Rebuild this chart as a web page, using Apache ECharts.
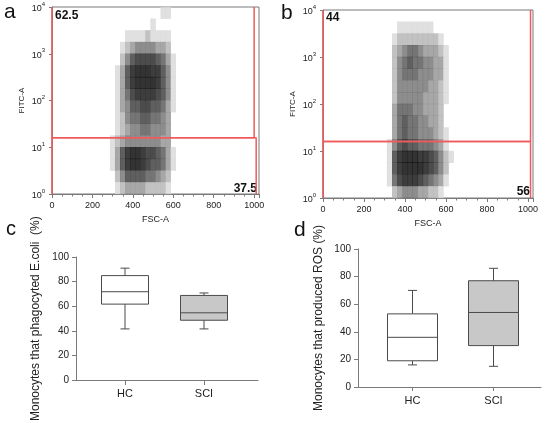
<!DOCTYPE html>
<html>
<head>
<meta charset="utf-8">
<style>
html, body { margin: 0; padding: 0; background: #fff; }
#main { width: 550px; height: 423px; }
</style>
<script src="https://cdn.jsdelivr.net/npm/echarts@6/dist/echarts.min.js"></script>
</head>
<body>
<div id="main"></div>
<script>
// FSC-A bin centres and log10(FITC-A) bin centres (top row first)
var fscBins = [300, 325, 350, 375, 400, 425, 450, 475, 500, 525, 550, 575, 600, 625, 650];
var logBins = [3.875, 3.625, 3.375, 3.125, 2.875, 2.625, 2.375, 2.125, 1.875, 1.625, 1.375, 1.125, 0.875, 0.625, 0.375, 0.125];

// dot density, 0 = empty .. 9 = solid
var densityA = [
  [0,0,0,0,0,0,0,0,0,0,1,1,0,0,0],
  [0,0,0,0,0,0,0,0,1,0,0,0,0,0,0],
  [0,0,0,1,1,1,1,2,1,1,1,1,0,0,0],
  [0,0,1,2,3,4,4,4,4,3,3,2,0,0,0],
  [0,0,2,4,6,7,7,7,7,6,5,3,1,0,0],
  [0,1,3,6,8,9,9,9,8,8,6,4,1,0,0],
  [0,1,3,6,8,9,9,9,9,8,6,4,1,0,0],
  [0,1,3,5,7,8,8,8,8,7,6,4,1,0,0],
  [0,1,3,4,6,6,7,7,6,6,5,3,1,0,0],
  [0,1,2,4,5,5,6,6,5,5,4,3,0,0,0],
  [0,1,2,3,4,4,5,5,4,4,4,3,0,0,0],
  [1,2,3,4,4,4,4,4,4,4,3,3,0,0,0],
  [1,3,6,8,9,9,8,7,7,6,5,3,1,0,0],
  [1,3,6,8,9,9,8,7,6,6,5,3,1,0,0],
  [0,2,4,6,6,6,6,5,5,4,3,2,0,0,0],
  [0,1,2,3,3,3,3,2,2,2,2,1,0,0,0]
];
var densityB = [
  [0,0,0,0,0,0,0,0,0,0,0,0,0,0,0],
  [0,0,0,1,1,1,1,1,1,1,0,0,0,0,0],
  [0,0,1,2,2,2,2,2,2,2,2,1,0,0,0],
  [0,0,2,3,4,5,5,4,3,3,3,2,1,0,0],
  [0,0,2,4,5,6,5,5,4,4,3,3,1,0,0],
  [0,0,2,4,5,5,5,4,4,4,3,3,1,0,0],
  [0,0,2,4,4,4,4,4,4,3,3,2,1,0,0],
  [0,0,2,4,4,4,4,4,3,3,3,2,1,0,0],
  [0,0,3,5,5,5,4,4,3,3,3,2,0,0,0],
  [0,0,3,5,6,5,5,4,4,3,3,2,0,0,0],
  [0,0,3,5,6,5,5,4,4,4,3,2,1,0,0],
  [0,1,4,6,7,6,6,5,5,5,4,3,1,0,0],
  [0,1,6,8,9,9,9,8,8,7,6,4,2,1,0],
  [0,1,6,8,9,9,9,9,8,7,6,4,2,0,0],
  [0,1,5,7,8,8,8,7,6,5,4,3,1,0,0],
  [0,0,2,3,4,4,4,3,3,2,2,1,0,0,0]
];

// gates [FSC-A, FITC-A]
var gateAUpper = [[0, 10000], [0, 16], [1000, 16], [1000, 10000]];
var gateALower = [[0, 1], [0, 16], [1010, 16], [1010, 1]];
var gateBUpper = [[0, 10000], [0, 16], [1012, 16], [1012, 10000]];
var gateBLower = [[0, 1], [0, 16], [1012, 16], [1012, 1]];
var quadA = ['62.5', '37.5'];
var quadB = ['44', '56'];

// box plots: [min, Q1, median, Q3, max]
var groups = ['HC', 'SCI'];
var phago = [[42, 62, 72, 85, 91], [42, 49, 55, 69, 71]];
var ros = [[16, 19, 36, 53, 70], [15, 30, 54, 77, 86]];
var sigPhago = [[1, 76]];

var FONT = 'Liberation Sans, Arial, sans-serif';
var AXIS_C = '#7a7a7a';
var TEXT_C = '#222';

// grey level for a density class (opaque, so touching tiles leave no seams)
function shade(v) {
  var g = Math.round(255 * Math.pow(1 - v / 9, 1.4));
  return 'rgb(' + g + ',' + g + ',' + g + ')';
}

function tiles(density) {
  var out = [];
  density.forEach(function (row, r) {
    row.forEach(function (v, c) {
      if (v > 0) {
        out.push({
          value: [fscBins[c], Math.pow(10, logBins[r])],
          itemStyle: { color: shade(v) }
        });
      }
    });
  });
  return out;
}

function boxData(arr) {
  return arr.map(function (d, i) { return [i].concat(d); });
}

function makeBoxRender(boxW) {
  return function (params, api) {
    var x = api.value(0);
    var lo = api.coord([x, api.value(1)]);
    var q1 = api.coord([x, api.value(2)]);
    var md = api.coord([x, api.value(3)]);
    var q3 = api.coord([x, api.value(4)]);
    var hi = api.coord([x, api.value(5)]);
    var cx = md[0], half = boxW / 2, cap = 4.5;
    var ls = { stroke: '#4a4a4a', lineWidth: 1 };
    var fill = params.dataIndex === 0 ? '#ffffff' : '#c8c8c8';
    return {
      type: 'group',
      children: [
        { type: 'line', shape: { x1: cx, y1: hi[1], x2: cx, y2: q3[1] }, style: ls },
        { type: 'line', shape: { x1: cx, y1: q1[1], x2: cx, y2: lo[1] }, style: ls },
        { type: 'line', shape: { x1: cx - cap, y1: hi[1], x2: cx + cap, y2: hi[1] }, style: ls },
        { type: 'line', shape: { x1: cx - cap, y1: lo[1], x2: cx + cap, y2: lo[1] }, style: ls },
        { type: 'rect', shape: { x: cx - half, y: q3[1], width: boxW, height: q1[1] - q3[1] },
          style: { fill: fill, stroke: '#4a4a4a', lineWidth: 1 } },
        { type: 'line', shape: { x1: cx - half, y1: md[1], x2: cx + half, y2: md[1] }, style: ls }
      ]
    };
  };
}

function fscAxis(grid) {
  return {
    type: 'value', gridIndex: grid, min: 0, max: 1024, interval: 200,
    name: 'FSC-A', nameLocation: 'middle', nameGap: 21,
    nameTextStyle: { fontSize: 9, color: TEXT_C, fontFamily: FONT },
    axisLine: { lineStyle: { color: AXIS_C } },
    axisTick: { length: 4, lineStyle: { color: AXIS_C } },
    minorTick: { show: true, splitNumber: 4, length: 2.5, lineStyle: { color: AXIS_C } },
    splitLine: { show: false },
    axisLabel: {
      fontSize: 9, color: TEXT_C, fontFamily: FONT, margin: 7,
      formatter: function (v) { return v % 200 === 0 ? String(v) : ''; }
    }
  };
}

function fitcAxis(grid) {
  return {
    type: 'log', gridIndex: grid, min: 1, max: 10000, logBase: 10,
    name: 'FITC-A', nameLocation: 'middle', nameGap: 26, nameRotate: 90,
    nameTextStyle: { fontSize: 8, color: TEXT_C, fontFamily: FONT },
    axisLine: { lineStyle: { color: AXIS_C } },
    axisTick: { length: 3, lineStyle: { color: AXIS_C } },
    splitLine: { show: false },
    axisLabel: {
      color: TEXT_C, fontFamily: FONT, margin: 7,
      formatter: function (v) {
        var e = Math.round(Math.log(v) / Math.LN10);
        return '{b|10}{s|' + e + '}';
      },
      rich: {
        b: { fontSize: 9, fontFamily: FONT, color: TEXT_C, lineHeight: 12, verticalAlign: 'bottom' },
        s: { fontSize: 6, fontFamily: FONT, color: TEXT_C, lineHeight: 6, verticalAlign: 'top' }
      }
    }
  };
}

function pctAxis(grid, name, gap) {
  return {
    type: 'value', gridIndex: grid, min: 0, max: 100, interval: 20,
    name: name, nameLocation: 'middle', nameGap: gap, nameRotate: 90,
    nameTextStyle: { fontSize: 12, color: TEXT_C, fontFamily: FONT },
    axisLine: { show: true, lineStyle: { color: AXIS_C } },
    axisTick: { show: true, length: 4, lineStyle: { color: AXIS_C } },
    splitLine: { show: false },
    axisLabel: { fontSize: 10, color: TEXT_C, fontFamily: FONT, margin: 7 }
  };
}

function gateSeries(data, xi) {
  return {
    type: 'line', xAxisIndex: xi, yAxisIndex: xi, data: data,
    symbol: 'none', clip: false, z: 5, silent: true,
    lineStyle: { color: '#f05a5a', width: 1.5 }
  };
}

function label(text, x, y, size, weight, align) {
  var el = {
    type: 'text', top: y,
    style: { text: text, font: (weight || 'normal') + ' ' + size + 'px ' + FONT, fill: '#111' }
  };
  if (align === 'right') el.right = x; else el.left = x;
  return el;
}

var chart = echarts.init(document.getElementById('main'));

var option = {
  animation: false,
  backgroundColor: '#fff',
  grid: [
    { left: 52, top: 7, width: 207, height: 187, show: true, borderColor: AXIS_C, borderWidth: 1 },
    { left: 323, top: 10, width: 210, height: 188, show: true, borderColor: AXIS_C, borderWidth: 1 },
    { left: 76, top: 257, width: 182, height: 124 },
    { left: 85.5, top: 257, width: 158, height: 124 },
    { left: 358, top: 249, width: 183, height: 138 },
    { left: 372, top: 249, width: 162, height: 138 }
  ],
  xAxis: [
    fscAxis(0),
    fscAxis(1),
    { type: 'value', gridIndex: 2, min: 0, max: 1,
      axisLine: { lineStyle: { color: AXIS_C } }, axisTick: { show: false },
      axisLabel: { show: false }, splitLine: { show: false } },
    { type: 'category', gridIndex: 3, data: groups,
      axisLine: { show: false },
      axisTick: { show: true, alignWithLabel: true, length: 4, lineStyle: { color: AXIS_C } },
      axisLabel: { fontSize: 11, color: TEXT_C, fontFamily: FONT, margin: 7 } },
    { type: 'value', gridIndex: 4, min: 0, max: 1,
      axisLine: { lineStyle: { color: AXIS_C } }, axisTick: { show: false },
      axisLabel: { show: false }, splitLine: { show: false } },
    { type: 'category', gridIndex: 5, data: groups,
      axisLine: { show: false },
      axisTick: { show: true, alignWithLabel: true, length: 4, lineStyle: { color: AXIS_C } },
      axisLabel: { fontSize: 11, color: TEXT_C, fontFamily: FONT, margin: 8 } }
  ],
  yAxis: [
    fitcAxis(0),
    fitcAxis(1),
    pctAxis(2, 'Monocytes that phagocyted E.coli  (%)', 34),
    { type: 'value', gridIndex: 3, min: 0, max: 100, show: false },
    pctAxis(4, 'Monocytes that produced ROS (%)', 33),
    { type: 'value', gridIndex: 5, min: 0, max: 100, show: false }
  ],
  series: [
    { type: 'scatter', xAxisIndex: 0, yAxisIndex: 0, data: tiles(densityA),
      symbol: 'rect', symbolSize: [5.5, 12.1], silent: true },
    { type: 'scatter', xAxisIndex: 1, yAxisIndex: 1, data: tiles(densityB),
      symbol: 'rect', symbolSize: [5.6, 12.2], silent: true },
    gateSeries(gateAUpper, 0),
    gateSeries(gateALower, 0),
    gateSeries(gateBUpper, 1),
    gateSeries(gateBLower, 1),
    { type: 'custom', xAxisIndex: 3, yAxisIndex: 3, data: boxData(phago),
      renderItem: makeBoxRender(47), encode: { x: 0, y: [1, 2, 3, 4, 5] } },
    { type: 'custom', xAxisIndex: 5, yAxisIndex: 5, data: boxData(ros),
      renderItem: makeBoxRender(50), encode: { x: 0, y: [1, 2, 3, 4, 5] } },
    { type: 'scatter', xAxisIndex: 3, yAxisIndex: 3, data: sigPhago, symbol: 'none',
      label: { show: true, position: 'inside', formatter: '***', fontSize: 14,
               color: '#333', fontFamily: FONT } }
  ],
  graphic: [
    label('a', 4, 2, 21),
    label('b', 281, 3, 21),
    label('c', 6, 219, 20),
    label('d', 294, 220, 21),
    label(quadA[0], 55, 10, 12, 'bold'),
    label(quadA[1], 293, 183, 12, 'bold', 'right'),
    label(quadB[0], 326, 12, 12, 'bold'),
    label(quadB[1], 20, 186, 12, 'bold', 'right')
  ]
};

chart.setOption(option);
</script>
</body>
</html>
